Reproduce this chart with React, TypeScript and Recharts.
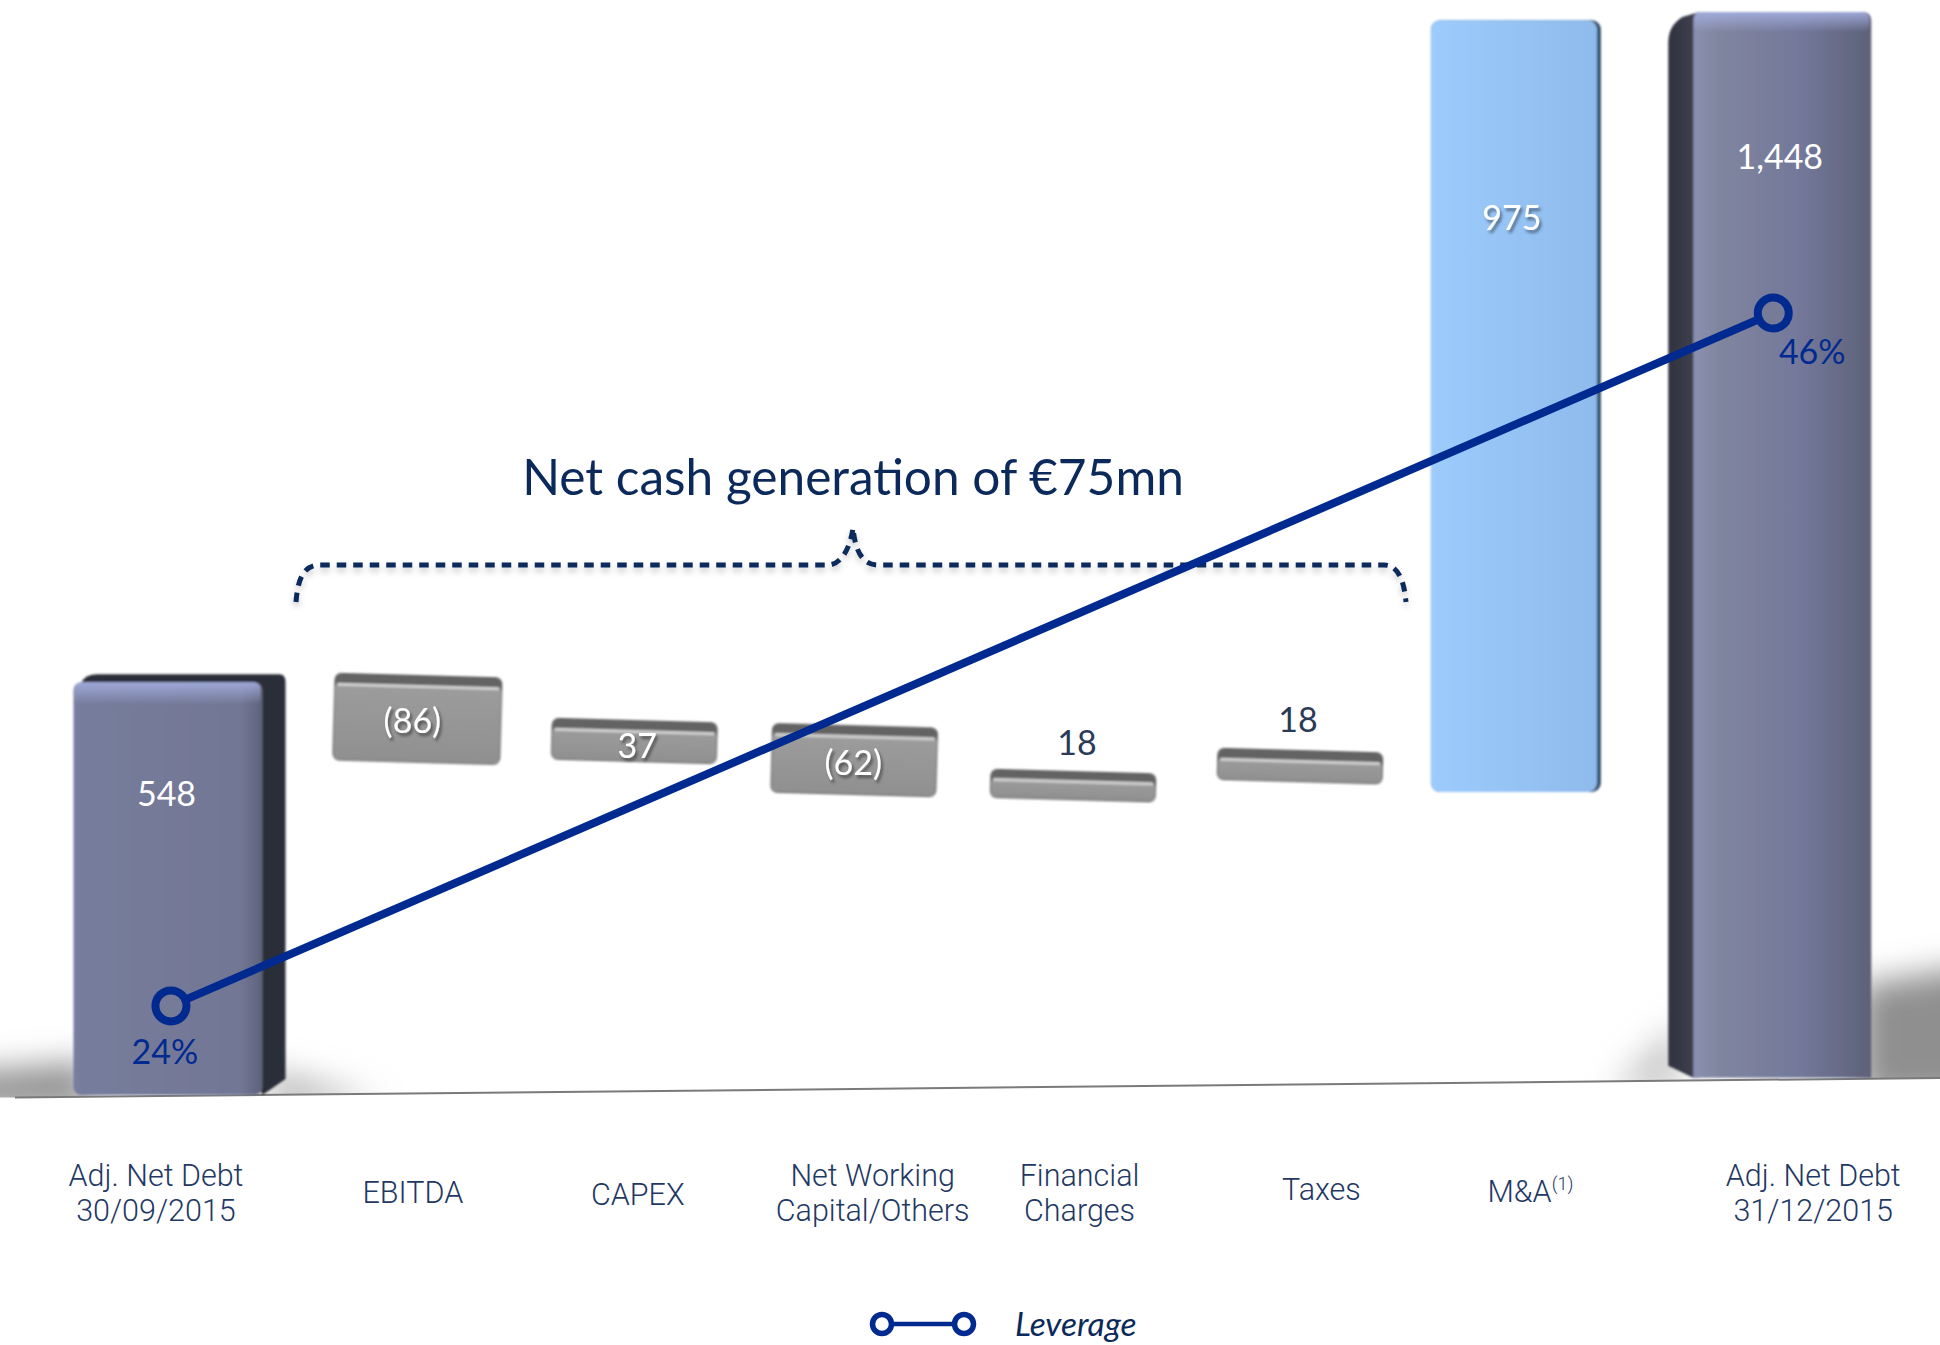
import { Bar, ComposedChart, LabelList, Line, XAxis, YAxis } from 'recharts'

const categories = ['Adj. Net Debt 30/09/2015', 'EBITDA', 'CAPEX', 'Net Working Capital/Others', 'Financial Charges', 'Taxes', 'M&A', 'Adj. Net Debt 31/12/2015']
const tickLines = [['Adj. Net Debt', '30/09/2015'], ['EBITDA'], ['CAPEX'], ['Net Working', 'Capital/Others'], ['Financial', 'Charges'], ['Taxes'], ['M&A'], ['Adj. Net Debt', '31/12/2015']]
const barLabels = ['548', '(86)', '37', '(62)', '18', '18', '975', '1,448']
// drawn extents, the 3D blocks do not land exactly on their labels
const barLow = [0, 443, 444, 400, 393, 417, 404, 23]
const barHigh = [561, 560, 500, 493, 432, 460, 1433, 1444]
const leverage = [24, null, null, null, null, null, null, 46]

const chartData = categories.map((name, i) => ({ name, range: [barLow[i], barHigh[i]], leverage: leverage[i] }))

const NAVY = '#0b2a5b'
const LINE_BLUE = '#002a90'

// small per-bar layout tweaks, the original spacing is hand placed
const barLooks = [
  { kind: 'navyR', nudge: 9, width: 212 },
  { kind: 'grey', nudge: 18, width: 168 },
  { kind: 'grey', nudge: 6, width: 166 },
  { kind: 'grey', nudge: -3, width: 166 },
  { kind: 'grey', nudge: -13, width: 166 },
  { kind: 'grey', nudge: -15, width: 166 },
  { kind: 'blue', nudge: -28, width: 170 },
  { kind: 'navyL', nudge: -3, width: 203 },
]
const labelLooks = [
  { dx: -4, dy: 118, fill: '#fff' },
  { dx: 13, dy: 44, fill: '#fff' },
  { dx: 9, dy: 24, fill: '#fff' },
  { dx: -4, dy: 36, fill: '#fff' },
  { dx: -9, dy: -30, fill: '#2b3a55' },
  { dx: -17, dy: -32, fill: '#2b3a55' },
  { dx: -32, dy: 196, fill: '#fff' },
  { dx: 7, dy: 143, fill: '#fff' },
]
const tickLooks = [
  { dx: -15, dy: 72 },
  { dx: 13, dy: 89 },
  { dx: 9, dy: 91 },
  { dx: 15, dy: 72 },
  { dx: -7, dy: 72 },
  { dx: 6, dy: 86 },
  { dx: -14, dy: 88 },
  { dx: 40, dy: 72 },
]

function Block(props: any) {
  const { x, y, width, height, index } = props
  const look = barLooks[index]
  const cx = x + width / 2 + look.nudge
  const left = cx - look.width / 2
  const w = look.width
  const bottom = y + height

  if (look.kind === 'navyR') {
    const side = 23
    return (
      <g filter="url(#soft)">
        <path d={`M${left + 8} ${y + 8} Q${left + 12} ${y} ${left + 24} ${y} L${left + w - 6} ${y} Q${left + w} ${y} ${left + w} ${y + 8} L${left + w} ${bottom - 16} L${left + w - side} ${bottom} Z`} fill="#2c2e37" />
        <rect x={left} y={y + 8} width={w - side} height={height - 8} rx={8} fill="url(#navyFrontR)" />
        <rect x={left + 1} y={y + 8} width={w - side - 3} height={22} rx={7} fill="url(#topGlow)" />
      </g>
    )
  }
  if (look.kind === 'navyL') {
    const side = 25
    return (
      <g filter="url(#soft)">
        <path d={`M${left} ${y + 30} Q${left} ${y + 14} ${left + 14} ${y + 5} L${left + side + 6} ${y} L${left + side + 6} ${bottom} L${left + side} ${bottom} L${left} ${bottom - 12} Z`} fill="url(#navySide)" />
        <path d={`M${left + side} ${bottom} L${left + side} ${y + 8} Q${left + side} ${y} ${left + side + 8} ${y} L${left + w - 8} ${y} Q${left + w} ${y} ${left + w} ${y + 10} L${left + w} ${bottom} Z`} fill="url(#navyFrontL)" />
        <rect x={left + side + 1} y={y} width={w - side - 3} height={20} rx={7} fill="url(#topGlow)" />
      </g>
    )
  }
  if (look.kind === 'blue') {
    return (
      <g filter="url(#soft)">
        <rect x={left} y={y} width={w} height={height} rx={9} fill="#34526f" />
        <rect x={left} y={y} width={w - 4} height={height} rx={9} fill="url(#blueFront)" />
      </g>
    )
  }
  const ch = Math.min(10, height * 0.32)
  return (
    <g filter="url(#soft)" transform={`rotate(1.6 ${cx} ${y + height / 2})`}>
      <rect x={left} y={y} width={w} height={height} rx={7} fill="#646464" />
      <rect x={left + 1} y={y + ch} width={w - 2} height={height - ch - 1} rx={5} fill="url(#greyFront)" />
      <rect x={left + 3} y={y + ch} width={w - 6} height={3} rx={1} fill="#cfcfcf" />
    </g>
  )
}

function BarValue(props: any) {
  const { x, y, width, index } = props
  const look = labelLooks[index]
  const onBar = look.fill === '#fff'
  return (
    <text
      x={x + width / 2 + look.dx}
      y={y + look.dy}
      textAnchor="middle"
      dominantBaseline="central"
      fill={look.fill}
      fontFamily="Lato"
      fontSize={34}
      filter={onBar && index !== 0 && index !== 7 ? 'url(#textShadow)' : undefined}
    >
      {barLabels[index]}
    </text>
  )
}

function LeverageDot(props: any) {
  const { cx, cy, value, index } = props
  if (value == null) return <g key={index} />
  return <circle key={index} cx={cx} cy={cy} r={15.5} fill="#767b98" stroke={LINE_BLUE} strokeWidth={8} />
}

function LeverageValue(props: any) {
  const { x, y, value, index } = props
  if (value == null) return null
  const dx = index === 0 ? -6 : 39
  const dy = index === 0 ? 45 : 37
  return (
    <text x={x + dx} y={y + dy} textAnchor="middle" dominantBaseline="central" fill={LINE_BLUE} fontFamily="Lato" fontSize={34}>
      {value}%
    </text>
  )
}

function CategoryTick(props: any) {
  const { x, y, payload } = props
  const i = categories.indexOf(payload.value)
  const look = tickLooks[i]
  return (
    <text x={x + look.dx} y={y + look.dy} textAnchor="middle" dominantBaseline="central" fill="#1f3864" fontFamily="Roboto" fontWeight={300} fontSize={30.5}>
      {tickLines[i].map((line, n) => (
        <tspan key={line} x={x + look.dx} dy={n === 0 ? 0 : 35}>
          {line}
          {line === 'M&A' ? <tspan fontSize={18} dy={-8}>(1)</tspan> : null}
        </tspan>
      ))}
    </text>
  )
}

export default function App() {
  return (
    <div style={{ position: 'absolute', left: 0, top: 0, width: 1940, height: 1345, background: '#fff' }}>
      <svg width={1940} height={1345} style={{ position: 'absolute', left: 0, top: 0 }}>
        <defs>
          <filter id="shade" x="-100%" y="-100%" width="300%" height="300%">
            <feGaussianBlur stdDeviation="16" />
          </filter>
          <filter id="bracketShadow" x="-5%" y="-30%" width="110%" height="160%">
            <feDropShadow dx="0" dy="4" stdDeviation="3" floodColor="#000" floodOpacity="0.22" />
          </filter>
          <clipPath id="aboveGround">
            <polygon points="0,0 1940,0 1940,1078 15,1097.5 0,1097.5" />
          </clipPath>
        </defs>
        <g clipPath="url(#aboveGround)">
          <polygon points="-60,1075 90,1062 90,1110 -60,1110" fill="#8f8f8f" filter="url(#shade)" />
          <polygon points="270,1070 380,1100 270,1110" fill="#b5b5b5" filter="url(#shade)" />
          <polygon points="1860,985 2010,960 2010,1100 1860,1100" fill="#8f8f8f" filter="url(#shade)" />
          <polygon points="1680,1020 1680,1090 1610,1090" fill="#c8c8c8" filter="url(#shade)" />
        </g>
        <line x1={15} y1={1097.5} x2={1940} y2={1078} stroke="#7a7a7a" strokeWidth={2} />
        <text x={853} y={476} textAnchor="middle" dominantBaseline="central" fill={NAVY} fontFamily="Lato" fontSize={49.6}>
          Net cash generation of €75mn
        </text>
        <path
          d="M296 602 C298 576 305 565 320 565 L828 565 C840 565 850 550 853 528 C855 550 862 565 878 565 L1384 565 C1398 565 1404 580 1406 602"
          fill="none"
          stroke={NAVY}
          strokeWidth={5}
          strokeDasharray="9.5 7"
          filter="url(#bracketShadow)"
        />
        <line x1={882} y1={1324} x2={964} y2={1324} stroke={LINE_BLUE} strokeWidth={4.5} />
        <circle cx={882} cy={1324} r={9.5} fill="#fff" stroke={LINE_BLUE} strokeWidth={5.5} />
        <circle cx={964} cy={1324} r={9.5} fill="#fff" stroke={LINE_BLUE} strokeWidth={5.5} />
        <text x={1015} y={1323} dominantBaseline="central" fill={NAVY} fontFamily="Lato" fontStyle="italic" fontSize={33.5}>
          Leverage
        </text>
      </svg>
      <ComposedChart
        width={1940}
        height={1345}
        data={chartData}
        margin={{ top: 0, right: 52.3, bottom: 0, left: 56.5 }}
        style={{ position: 'absolute', left: 0, top: 0 }}
      >
        <defs>
          <linearGradient id="navyFrontR" x1="0" y1="0" x2="1" y2="0">
            <stop offset="0" stopColor="#777d9c" />
            <stop offset="0.88" stopColor="#727795" />
            <stop offset="1" stopColor="#5f637b" />
          </linearGradient>
          <linearGradient id="navyFrontL" x1="0" y1="0" x2="1" y2="0">
            <stop offset="0" stopColor="#8a90b0" />
            <stop offset="0.15" stopColor="#80859f" />
            <stop offset="0.6" stopColor="#73789a" />
            <stop offset="1" stopColor="#5e6178" />
          </linearGradient>
          <linearGradient id="navySide" x1="0" y1="0" x2="1" y2="0">
            <stop offset="0" stopColor="#30333e" />
            <stop offset="0.75" stopColor="#3b3e4a" />
            <stop offset="1" stopColor="#50546a" />
          </linearGradient>
          <linearGradient id="topGlow" x1="0" y1="0" x2="0" y2="1">
            <stop offset="0" stopColor="#a4afe0" stopOpacity="0.9" />
            <stop offset="1" stopColor="#a4afe0" stopOpacity="0" />
          </linearGradient>
          <linearGradient id="blueFront" x1="0" y1="0" x2="1" y2="0">
            <stop offset="0" stopColor="#9ccbfd" />
            <stop offset="1" stopColor="#8fbbec" />
          </linearGradient>
          <linearGradient id="greyFront" x1="0" y1="0" x2="0" y2="1">
            <stop offset="0" stopColor="#9c9c9c" />
            <stop offset="1" stopColor="#909090" />
          </linearGradient>
          <filter id="soft" x="-5%" y="-5%" width="110%" height="110%">
            <feGaussianBlur stdDeviation="1" />
          </filter>
          <filter id="textShadow" x="-20%" y="-20%" width="140%" height="140%">
            <feDropShadow dx="2" dy="3" stdDeviation="1.5" floodColor="#000" floodOpacity="0.45" />
          </filter>
        </defs>
        <XAxis dataKey="name" height={250} axisLine={false} tickLine={false} interval={0} tick={CategoryTick} />
        <YAxis yAxisId="net" hide domain={[0, 1460]} />
        <YAxis yAxisId="pct" hide orientation="right" domain={[21.17, 55.94]} />
        <Bar yAxisId="net" dataKey="range" barSize={166} shape={Block} isAnimationActive={false}>
          <LabelList content={BarValue} />
        </Bar>
        <Line
          yAxisId="pct"
          dataKey="leverage"
          connectNulls
          stroke={LINE_BLUE}
          strokeWidth={8}
          dot={LeverageDot}
          activeDot={false}
          isAnimationActive={false}
        >
          <LabelList content={LeverageValue} />
        </Line>
      </ComposedChart>
    </div>
  )
}
